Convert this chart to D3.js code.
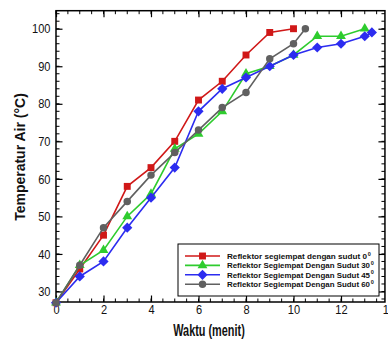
<!DOCTYPE html>
<html>
<head>
<meta charset="utf-8">
<script src="https://cdn.jsdelivr.net/npm/d3@7"></script>
<style>
  body { margin: 0; background: #fff; }
  svg { display: block; }
</style>
</head>
<body>
<svg id="chart" width="388" height="341"></svg>
<script>
// time in minutes
const waktu = [0, 1, 2, 3, 4, 5, 6, 7, 8, 9, 10, 11, 12, 13, 13.3];

// water temperature per reflector angle
const sudut0 = [27, 36, 45, 58, 63, 70, 81, 86, 93, 99, 100];
const sudut30 = [27, 37, 41, 50, 56, 68, 72, 78, 88, 90, 93, 98, 98, 100];
const sudut45 = [27, 34, 38, 47, 55, 63, 78, 84, 87, 90, 93, 95, 96, 98, 99];
const sudut60Waktu = [0, 1, 2, 3, 4, 5, 6, 7, 8, 9, 10, 10.5];
const sudut60 = [27, 37, 47, 54, 61, 67, 73, 79, 83, 92, 96, 100];

const xTicks = [0, 2, 4, 6, 8, 10, 12, 14];
const yTicks = [30, 40, 50, 60, 70, 80, 90, 100];

const legendLabels = [
  ['Reflektor segiempat dengan sudut ', '0'],
  ['Reflektor Segiempat Dengan Sudut ', '30'],
  ['Reflektor Segiempat Dengan Sudut ', '45'],
  ['Reflektor Segiempat Dengan Sudut ', '60']
];

const FONT = '"Liberation Sans", Arial, sans-serif';
const X_MAX = 13.85; // right edge of the frame, in minutes

// square turned 45deg, looks like the plot's diamonds
const diamond = {
  draw(ctx, size) {
    const r = Math.sqrt(size / 2);
    ctx.moveTo(0, -r);
    ctx.lineTo(r, 0);
    ctx.lineTo(0, r);
    ctx.lineTo(-r, 0);
    ctx.closePath();
  }
};

const series = [
  { x: waktu, y: sudut0, color: '#d01818', shape: d3.symbolSquare, size: 48, rot: 0 },
  { x: waktu, y: sudut30, color: '#2ecc2e', shape: d3.symbolTriangle, size: 42, rot: 0 },
  { x: waktu, y: sudut45, color: '#2c2cf0', shape: diamond, size: 52, rot: 0 },
  { x: sudut60Waktu, y: sudut60, color: '#606060', shape: d3.symbolCircle, size: 44, rot: 0 }
];

const svg = d3.select('#chart');

const xScale = d3.scaleLinear().domain([0, 14]).range([56, 388.5]);
const yScale = d3.scaleLinear().domain([27.2, 104.8]).range([302, 10.7]);

const plotLeft = xScale(0), plotRight = xScale(X_MAX);
const plotTop = yScale.range()[1], plotBottom = yScale.range()[0];

// squeeze text horizontally (the source picture is narrowed)
function squeeze(sel, k) {
  sel.each(function() {
    const w = this.getComputedTextLength();
    d3.select(this).attr('textLength', w * k).attr('lengthAdjust', 'spacingAndGlyphs');
  });
}

const xMinor = d3.range(0, X_MAX + 0.01, 0.5);
const yMinor = d3.range(28, 105, 2);

function styleAxis(g) {
  g.select('.domain').remove();
  g.selectAll('line').attr('stroke', '#000').attr('stroke-width', 1.2);
}

// minor ticks on all four sides
const minor = svg.append('g').attr('class', 'minor-ticks').attr('stroke', '#000').attr('stroke-width', 1);
minor.selectAll('line.xb').data(xMinor).join('line').attr('class', 'xb')
  .attr('x1', d => xScale(d)).attr('x2', d => xScale(d))
  .attr('y1', plotBottom).attr('y2', plotBottom - 3.5);
minor.selectAll('line.xt').data(xMinor).join('line').attr('class', 'xt')
  .attr('x1', d => xScale(d)).attr('x2', d => xScale(d))
  .attr('y1', plotTop).attr('y2', plotTop + 3.5);
minor.selectAll('line.yl').data(yMinor).join('line').attr('class', 'yl')
  .attr('y1', d => yScale(d)).attr('y2', d => yScale(d))
  .attr('x1', plotLeft).attr('x2', plotLeft + 3.5);
minor.selectAll('line.yr').data(yMinor).join('line').attr('class', 'yr')
  .attr('y1', d => yScale(d)).attr('y2', d => yScale(d))
  .attr('x1', plotRight).attr('x2', plotRight - 3.5);

// major axes
const xAxis = svg.append('g')
  .attr('transform', `translate(0,${plotBottom})`)
  .call(d3.axisBottom(xScale).tickValues(xTicks).tickSize(-6.5).tickPadding(3).tickFormat(d3.format('d')));
styleAxis(xAxis);
xAxis.selectAll('text').attr('font-family', FONT).attr('font-size', 13).attr('fill', '#111');
xAxis.selectAll('.tick').filter(d => d > X_MAX).select('line').remove();

const xAxisTop = svg.append('g')
  .attr('transform', `translate(0,${plotTop})`)
  .call(d3.axisTop(xScale).tickValues(xTicks.filter(d => d <= X_MAX)).tickSize(-6.5).tickFormat(''));
styleAxis(xAxisTop);

const yAxis = svg.append('g')
  .attr('transform', `translate(${plotLeft},0)`)
  .call(d3.axisLeft(yScale).tickValues(yTicks).tickSize(-6.5).tickPadding(5.5));
styleAxis(yAxis);
yAxis.selectAll('text').attr('font-family', FONT).attr('font-size', 13).attr('fill', '#111');

const yAxisRight = svg.append('g')
  .attr('transform', `translate(${plotRight},0)`)
  .call(d3.axisRight(yScale).tickValues(yTicks).tickSize(-6.5).tickFormat(''));
styleAxis(yAxisRight);

// frame
svg.append('rect')
  .attr('x', plotLeft).attr('y', plotTop)
  .attr('width', plotRight - plotLeft).attr('height', plotBottom - plotTop)
  .attr('fill', 'none').attr('stroke', '#000').attr('stroke-width', 1.5);

squeeze(xAxis.selectAll('text'), 0.85);
squeeze(yAxis.selectAll('text'), 0.85);

// series
const line = d3.line();
series.forEach(s => {
  const pts = s.y.map((v, i) => [xScale(s.x[i]), yScale(v)]);
  svg.append('path')
    .attr('d', line(pts))
    .attr('fill', 'none')
    .attr('stroke', s.color)
    .attr('stroke-width', 1.6);
  svg.append('g').selectAll('path').data(pts).join('path')
    .attr('transform', d => `translate(${d[0]},${d[1]})`)
    .attr('d', d3.symbol(s.shape, s.size))
    .attr('fill', s.color);
});

// axis titles
const xTitle = svg.append('text')
  .attr('x', 209).attr('y', 336)
  .attr('text-anchor', 'middle')
  .attr('font-family', FONT).attr('font-weight', 'bold').attr('font-size', 16)
  .attr('fill', '#111')
  .text('Waktu (menit)');
squeeze(xTitle, 0.68);

svg.append('text')
  .attr('transform', 'translate(25,157) rotate(-90)')
  .attr('text-anchor', 'middle')
  .attr('font-family', FONT).attr('font-weight', 'bold').attr('font-size', 14)
  .attr('fill', '#111')
  .text('Temperatur Air (°C)');

// legend
const legend = svg.append('g').attr('class', 'legend');
legend.append('rect')
  .attr('x', 178).attr('y', 244).attr('width', 201).attr('height', 52)
  .attr('fill', '#fff').attr('stroke', '#000').attr('stroke-width', 1);

const legendTextWidth = [140, 143, 143, 143];
legendLabels.forEach((lab, i) => {
  const s = series[i];
  const y = 256 + i * 9.4;
  legend.append('line')
    .attr('x1', 185).attr('x2', 220).attr('y1', y).attr('y2', y)
    .attr('stroke', s.color).attr('stroke-width', 1.6);
  legend.append('path')
    .attr('transform', `translate(202.5,${y})`)
    .attr('d', d3.symbol(s.shape, s.size))
    .attr('fill', s.color);
  legend.append('text')
    .attr('x', 227).attr('y', y + 3)
    .attr('font-family', FONT).attr('font-weight', 'bold').attr('font-size', 8)
    .attr('fill', '#111')
    .attr('textLength', legendTextWidth[i]).attr('lengthAdjust', 'spacingAndGlyphs')
    .text(lab[0] + lab[1]);
  legend.append('text')
    .attr('x', 227 + legendTextWidth[i] + 0.8).attr('y', y - 0.5)
    .attr('font-family', FONT).attr('font-weight', 'bold').attr('font-size', 5.5)
    .attr('fill', '#111')
    .text('0');
});
</script>
</body>
</html>
